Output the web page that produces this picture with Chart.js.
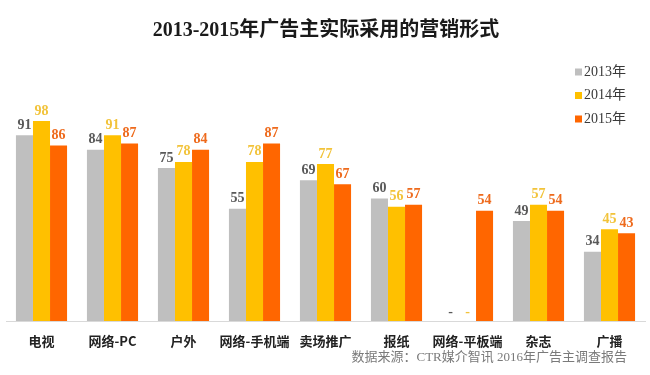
<!DOCTYPE html>
<html>
<head>
<meta charset="utf-8">
<script src="https://cdn.jsdelivr.net/npm/chart.js@4/dist/chart.umd.min.js"></script>
<style>
  html, body { margin: 0; padding: 0; background: #ffffff; }
  #wrap { width: 650px; height: 375px; position: relative; }
</style>
</head>
<body>
<div id="wrap"><canvas id="c" width="650" height="375"></canvas></div>
<script>
const categories = ['电视', '网络-PC', '户外', '网络-手机端', '卖场推广', '报纸', '网络-平板端', '杂志', '广播'];
const seriesNames = ['2013年', '2014年', '2015年'];
const values2013 = [91, 84, 75, 55, 69, 60, null, 49, 34];
const values2014 = [98, 91, 78, 78, 77, 56, null, 57, 45];
const values2015 = [86, 87, 84, 87, 67, 57, 54, 54, 43];
const titleText = '2013-2015年广告主实际采用的营销形式';
const sourceText = '数据来源：CTR媒介智讯 2016年广告主调查报告';

const barColors = ['#BFBFBF', '#FFC000', '#FF6600'];
const labelColors = ['#595959', '#F2C33A', '#EE6A1C'];

const serif = '"Liberation Serif", "Noto Sans CJK SC", serif';
const cjk = '"Noto Sans CJK SC", "Liberation Serif", sans-serif';

const decor = {
  id: 'decor',
  afterDatasetsDraw(chart) {
    const ctx = chart.ctx;
    const yScale = chart.scales.y;
    ctx.save();
    ctx.textAlign = 'center';
    ctx.textBaseline = 'middle';
    chart.data.datasets.forEach((ds, di) => {
      const meta = chart.getDatasetMeta(di);
      ctx.fillStyle = labelColors[di];
      ctx.font = 'bold 14px ' + serif;
      meta.data.forEach((el, i) => {
        const v = ds.data[i];
        if (v === null || v === undefined) {
          ctx.fillText('-', el.x, yScale.getPixelForValue(0) - 9);
        } else {
          ctx.fillText(String(v), el.x, el.y - 10);
        }
      });
    });
    ctx.restore();
  },
  afterDraw(chart) {
    const ctx = chart.ctx;
    ctx.save();
    // title
    ctx.fillStyle = '#1a1a1a';
    ctx.font = 'bold 20px ' + serif;
    ctx.textAlign = 'center';
    ctx.textBaseline = 'middle';
    ctx.fillText(titleText, 326, 31);
    // legend
    ctx.textAlign = 'left';
    ctx.font = '14px ' + serif;
    chart.data.datasets.forEach((ds, di) => {
      const y = 72 + di * 23.5;
      ctx.fillStyle = barColors[di];
      ctx.fillRect(575, y - 3.5, 7, 7);
      ctx.fillStyle = '#3a3a3a';
      ctx.fillText(ds.label, 584, y);
    });
    // source
    ctx.textAlign = 'right';
    ctx.fillStyle = '#7a7a7a';
    ctx.font = '13px ' + serif;
    ctx.fillText(sourceText, 627, 358);
    ctx.restore();
  }
};

const seriesValues = [values2013, values2014, values2015];

new Chart(document.getElementById('c'), {
  type: 'bar',
  data: {
    labels: categories,
    datasets: seriesNames.map((name, i) => ({
      label: name,
      data: seriesValues[i],
      backgroundColor: barColors[i],
      borderWidth: 0,
      categoryPercentage: 0.72,
      barPercentage: 1.0
    }))
  },
  options: {
    responsive: false,
    animation: false,
    layout: { padding: { top: 117, left: 6, right: 5, bottom: 0 } },
    plugins: {
      legend: { display: false },
      title: { display: false },
      tooltip: { enabled: false }
    },
    scales: {
      x: {
        grid: { display: false, drawTicks: false },
        border: { display: true, color: '#D9D9D9', width: 1 },
        ticks: {
          color: '#222222',
          font: { family: cjk, size: 13, weight: 'bold' },
          padding: 12,
          maxRotation: 0,
          autoSkip: false
        },
        afterFit(scale) { scale.height = 54; }
      },
      y: {
        display: false,
        min: 0,
        max: 100
      }
    }
  },
  plugins: [decor]
});
</script>
</body>
</html>
